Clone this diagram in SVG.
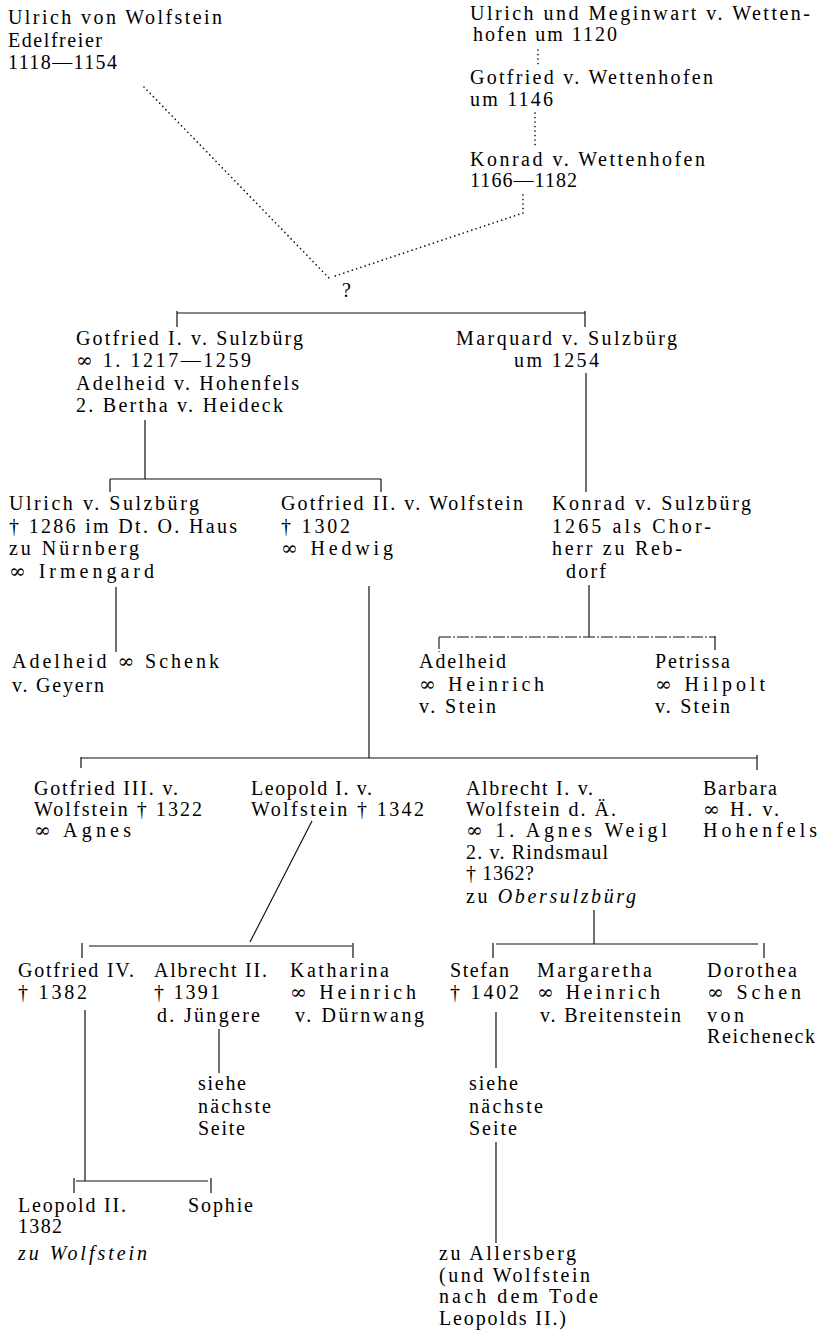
<svg xmlns="http://www.w3.org/2000/svg" width="818" height="1335" viewBox="0 0 818 1335">
<style>
.t{font-family:"Liberation Serif","Times New Roman",serif;font-size:20px;fill:#000}
.i{font-style:italic}
.m{font-family:"DejaVu Serif","Liberation Serif",serif}
.ln{stroke:#111;stroke-width:1.2;fill:none}
.dd{stroke:#111;stroke-width:1.1;fill:none;stroke-dasharray:12 2 2 2}
.dot{stroke:#111;stroke-width:1.7;fill:none;stroke-dasharray:0 4.5;stroke-linecap:round}
</style>
<rect width="818" height="1335" fill="#fff"/>
<g id="connectors">
<path class="dot" d="M144 87L329 278"/>
<path class="dot" d="M538 50V65"/>
<path class="dot" d="M535 113V147"/>
<path class="dot" d="M523 195V213L335 276"/>
<path class="ln" d="M177 313H585M177 311V327M585 311V327"/>
<path class="ln" d="M145 420V479M110 479H381M110 479V492M381 479V492"/>
<path class="ln" d="M586 373V492"/>
<path class="ln" d="M116 587V652"/>
<path class="ln" d="M369 586V758"/>
<path class="ln" d="M589 585V637"/>
<path class="dd" d="M439 637H715M439 637V652"/>
<path class="ln" d="M715 636V650"/>
<path class="ln" d="M81 758H757M81 757V768M757 755V770"/>
<path class="ln" d="M312 821L250 942"/>
<path class="ln" d="M594 910V944"/>
<path class="ln" d="M89 946H352M82 943V958M353 943V958"/>
<path class="ln" d="M496 944H758M493 943V958M764 943V958"/>
<path class="ln" d="M85 1010V1181M76 1181H208M74 1178V1193M211 1178V1193"/>
<path class="ln" d="M219 1029V1073"/>
<path class="ln" d="M496 1012V1068"/>
<path class="ln" d="M496 1142V1243"/>
</g>
<g id="ulrich-wolfstein">
<text class="t" x="8" y="24" textLength="214" lengthAdjust="spacing">Ulrich von Wolfstein</text>
<text class="t" x="8" y="46.5" textLength="94" lengthAdjust="spacing">Edelfreier</text>
<text class="t" x="8" y="69" textLength="109" lengthAdjust="spacing">1118—1154</text>
</g>
<g id="ulrich-meginwart">
<text class="t" x="470" y="20" textLength="340" lengthAdjust="spacing">Ulrich und Meginwart v. Wetten-</text>
<text class="t" x="473" y="41" textLength="144" lengthAdjust="spacing">hofen um 1120</text>
</g>
<g id="gotfried-wettenhofen">
<text class="t" x="470" y="84" textLength="243" lengthAdjust="spacing">Gotfried v. Wettenhofen</text>
<text class="t" x="470" y="106" textLength="83" lengthAdjust="spacing">um 1146</text>
</g>
<g id="konrad-wettenhofen">
<text class="t" x="470" y="166" textLength="235" lengthAdjust="spacing">Konrad v. Wettenhofen</text>
<text class="t" x="470" y="187" textLength="107" lengthAdjust="spacing">1166—1182</text>
</g>
<g id="unknown">
<text class="t" x="342" y="297">?</text>
</g>
<g id="gotfried-i">
<text class="t" x="76" y="345" textLength="227" lengthAdjust="spacing">Gotfried I. v. Sulzbürg</text>
<text class="t" x="76" y="367" textLength="175" lengthAdjust="spacing"><tspan class="m">∞</tspan> 1. 1217—1259</text>
<text class="t" x="76" y="390" textLength="223" lengthAdjust="spacing">Adelheid v. Hohenfels</text>
<text class="t" x="76" y="412" textLength="207" lengthAdjust="spacing">2. Bertha v. Heideck</text>
</g>
<g id="marquard">
<text class="t" x="456" y="345" textLength="221" lengthAdjust="spacing">Marquard v. Sulzbürg</text>
<text class="t" x="514" y="367" textLength="85" lengthAdjust="spacing">um 1254</text>
</g>
<g id="ulrich-sulzbuerg">
<text class="t" x="9" y="510" textLength="190" lengthAdjust="spacing">Ulrich v. Sulzbürg</text>
<text class="t" x="9" y="533" textLength="228" lengthAdjust="spacing">† 1286 im Dt. O. Haus</text>
<text class="t" x="9" y="555" textLength="130" lengthAdjust="spacing">zu Nürnberg</text>
<text class="t" x="9" y="578" textLength="145" lengthAdjust="spacing"><tspan class="m">∞</tspan> Irmengard</text>
</g>
<g id="gotfried-ii">
<text class="t" x="281" y="510" textLength="242" lengthAdjust="spacing">Gotfried II. v. Wolfstein</text>
<text class="t" x="281" y="533" textLength="69" lengthAdjust="spacing">† 1302</text>
<text class="t" x="281" y="555" textLength="112" lengthAdjust="spacing"><tspan class="m">∞</tspan> Hedwig</text>
</g>
<g id="konrad-sulzbuerg">
<text class="t" x="552" y="510" textLength="199" lengthAdjust="spacing">Konrad v. Sulzbürg</text>
<text class="t" x="552" y="533" textLength="159" lengthAdjust="spacing">1265 als Chor-</text>
<text class="t" x="552" y="555" textLength="130" lengthAdjust="spacing">herr zu Reb-</text>
<text class="t" x="566" y="578" textLength="40" lengthAdjust="spacing">dorf</text>
</g>
<g id="adelheid-schenk">
<text class="t" x="12" y="668" textLength="207" lengthAdjust="spacing">Adelheid <tspan class="m">∞</tspan> Schenk</text>
<text class="t" x="12" y="692" textLength="92" lengthAdjust="spacing">v. Geyern</text>
</g>
<g id="adelheid-stein">
<text class="t" x="419" y="668" textLength="87" lengthAdjust="spacing">Adelheid</text>
<text class="t" x="419" y="691" textLength="125" lengthAdjust="spacing"><tspan class="m">∞</tspan> Heinrich</text>
<text class="t" x="419" y="713" textLength="77" lengthAdjust="spacing">v. Stein</text>
</g>
<g id="petrissa">
<text class="t" x="655" y="668" textLength="75" lengthAdjust="spacing">Petrissa</text>
<text class="t" x="655" y="691" textLength="110" lengthAdjust="spacing"><tspan class="m">∞</tspan> Hilpolt</text>
<text class="t" x="655" y="713" textLength="75" lengthAdjust="spacing">v. Stein</text>
</g>
<g id="gotfried-iii">
<text class="t" x="34" y="795" textLength="144" lengthAdjust="spacing">Gotfried III. v.</text>
<text class="t" x="34" y="816" textLength="168" lengthAdjust="spacing">Wolfstein † 1322</text>
<text class="t" x="34" y="837" textLength="97" lengthAdjust="spacing"><tspan class="m">∞</tspan> Agnes</text>
</g>
<g id="leopold-i">
<text class="t" x="251" y="795" textLength="121" lengthAdjust="spacing">Leopold I. v.</text>
<text class="t" x="251" y="816" textLength="173" lengthAdjust="spacing">Wolfstein † 1342</text>
</g>
<g id="albrecht-i">
<text class="t" x="466" y="795" textLength="127" lengthAdjust="spacing">Albrecht I. v.</text>
<text class="t" x="466" y="816" textLength="150" lengthAdjust="spacing">Wolfstein d. Ä.</text>
<text class="t" x="466" y="837" textLength="201" lengthAdjust="spacing"><tspan class="m">∞</tspan> 1. Agnes Weigl</text>
<text class="t" x="466" y="859" textLength="142" lengthAdjust="spacing">2. v. Rindsmaul</text>
<text class="t" x="466" y="880" textLength="68" lengthAdjust="spacing">† 1362?</text>
<text class="t" x="466" y="903" textLength="170" lengthAdjust="spacing">zu <tspan class="i">Obersulzbürg</tspan></text>
</g>
<g id="barbara">
<text class="t" x="703" y="795" textLength="74" lengthAdjust="spacing">Barbara</text>
<text class="t" x="703" y="816" textLength="76" lengthAdjust="spacing"><tspan class="m">∞</tspan> H. v.</text>
<text class="t" x="703" y="837" textLength="114" lengthAdjust="spacing">Hohenfels</text>
</g>
<g id="gotfried-iv">
<text class="t" x="18" y="977" textLength="116" lengthAdjust="spacing">Gotfried IV.</text>
<text class="t" x="18" y="999" textLength="69" lengthAdjust="spacing">† 1382</text>
</g>
<g id="albrecht-ii">
<text class="t" x="154" y="977" textLength="113" lengthAdjust="spacing">Albrecht II.</text>
<text class="t" x="154" y="999" textLength="66" lengthAdjust="spacing">† 1391</text>
<text class="t" x="157" y="1022" textLength="103" lengthAdjust="spacing">d. Jüngere</text>
</g>
<g id="katharina">
<text class="t" x="290" y="977" textLength="99" lengthAdjust="spacing">Katharina</text>
<text class="t" x="290" y="999" textLength="126" lengthAdjust="spacing"><tspan class="m">∞</tspan> Heinrich</text>
<text class="t" x="295" y="1022" textLength="129" lengthAdjust="spacing">v. Dürnwang</text>
</g>
<g id="stefan">
<text class="t" x="450" y="977" textLength="59" lengthAdjust="spacing">Stefan</text>
<text class="t" x="450" y="999" textLength="69" lengthAdjust="spacing">† 1402</text>
</g>
<g id="margaretha">
<text class="t" x="537" y="977" textLength="115" lengthAdjust="spacing">Margaretha</text>
<text class="t" x="537" y="999" textLength="123" lengthAdjust="spacing"><tspan class="m">∞</tspan> Heinrich</text>
<text class="t" x="540" y="1022" textLength="141" lengthAdjust="spacing">v. Breitenstein</text>
</g>
<g id="dorothea">
<text class="t" x="707" y="977" textLength="90" lengthAdjust="spacing">Dorothea</text>
<text class="t" x="707" y="999" textLength="94" lengthAdjust="spacing"><tspan class="m">∞</tspan> Schen</text>
<text class="t" x="707" y="1022" textLength="37" lengthAdjust="spacing">von</text>
<text class="t" x="707" y="1043" textLength="108" lengthAdjust="spacing">Reicheneck</text>
</g>
<g id="siehe-1">
<text class="t" x="198" y="1090" textLength="48" lengthAdjust="spacing">siehe</text>
<text class="t" x="198" y="1113" textLength="73" lengthAdjust="spacing">nächste</text>
<text class="t" x="198" y="1135" textLength="47" lengthAdjust="spacing">Seite</text>
</g>
<g id="siehe-2">
<text class="t" x="469" y="1090" textLength="49" lengthAdjust="spacing">siehe</text>
<text class="t" x="469" y="1113" textLength="74" lengthAdjust="spacing">nächste</text>
<text class="t" x="469" y="1135" textLength="48" lengthAdjust="spacing">Seite</text>
</g>
<g id="leopold-ii">
<text class="t" x="18" y="1212" textLength="108" lengthAdjust="spacing">Leopold II.</text>
<text class="t" x="18" y="1233" textLength="44" lengthAdjust="spacing">1382</text>
<text class="t i" x="18" y="1260" textLength="129" lengthAdjust="spacing">zu Wolfstein</text>
</g>
<g id="sophie">
<text class="t" x="188" y="1212" textLength="65" lengthAdjust="spacing">Sophie</text>
</g>
<g id="allersberg">
<text class="t" x="439" y="1260" textLength="137" lengthAdjust="spacing">zu Allersberg</text>
<text class="t" x="439" y="1282" textLength="151" lengthAdjust="spacing">(und Wolfstein</text>
<text class="t" x="439" y="1303" textLength="159" lengthAdjust="spacing">nach dem Tode</text>
<text class="t" x="439" y="1325" textLength="127" lengthAdjust="spacing">Leopolds II.)</text>
</g>
</svg>
